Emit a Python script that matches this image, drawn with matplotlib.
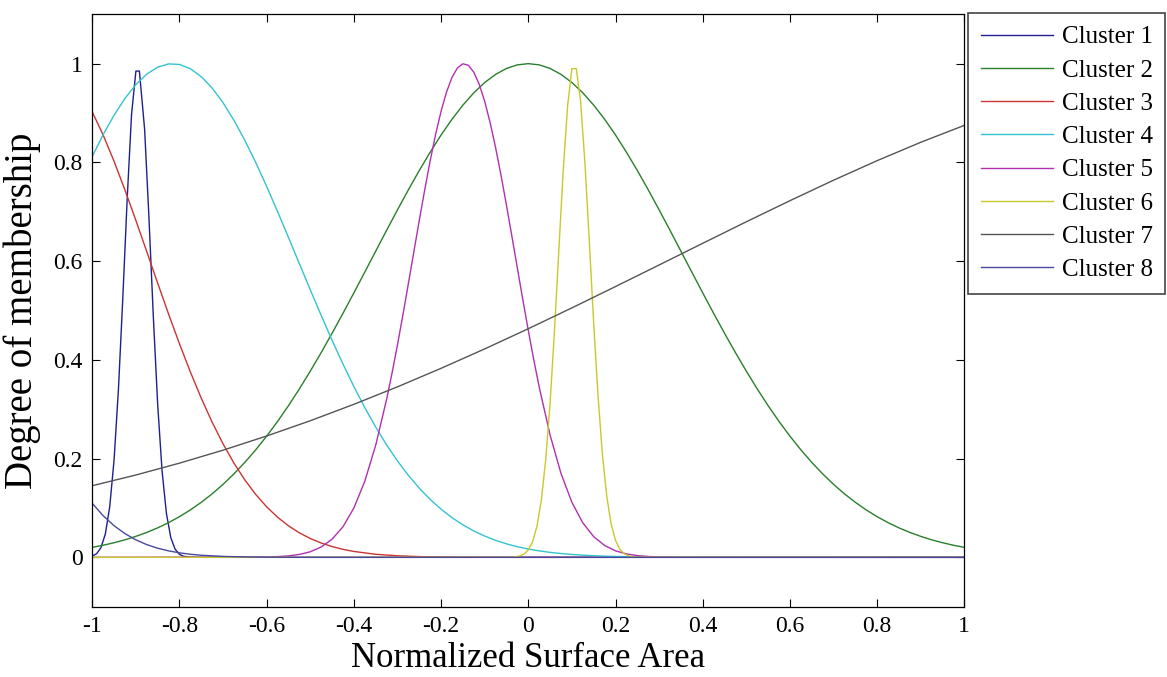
import numpy as np
import matplotlib
matplotlib.use("Agg")
import matplotlib.pyplot as plt
from matplotlib.lines import Line2D

plt.rcParams['font.family'] = ['Liberation Serif', 'DejaVu Serif']

# ---- membership curves over the normalized surface area ----
labels = ["Cluster 1", "Cluster 2", "Cluster 3", "Cluster 4",
          "Cluster 5", "Cluster 6", "Cluster 7", "Cluster 8"]
colors = ["#1f1f8f", "#2a7f2a", "#cc3333", "#33c3cf",
          "#b030b0", "#c9c92a", "#555555", "#4848a0"]

c1_x = [-1.00, -0.99, -0.98, -0.97, -0.96, -0.95, -0.94, -0.93, -0.92, -0.91,
        -0.90, -0.892, -0.88, -0.87, -0.86, -0.85, -0.84, -0.83, -0.82, -0.81,
        -0.80, -0.79, -0.78, -0.75, 1.00]
c1_y = [0.0025, 0.0074, 0.0198, 0.0477, 0.1027, 0.198, 0.341, 0.526, 0.726, 0.897,
        0.985, 0.985, 0.867, 0.687, 0.487, 0.309, 0.175, 0.089, 0.040, 0.0164,
        0.006, 0.002, 0.0007, 0.0, 0.0]

c2_x = np.linspace(-1.0, 1.0, 81)
c2_y = [0.0202, 0.0245, 0.0296, 0.0355, 0.0425, 0.0505, 0.0597, 0.0703, 0.0824, 0.0961,
        0.1115, 0.1287, 0.1479, 0.1692, 0.1925, 0.2179, 0.2456, 0.2753, 0.3073, 0.3413,
        0.3772, 0.4148, 0.4540, 0.4944, 0.5358, 0.5778, 0.6202, 0.6624, 0.7040, 0.7446,
        0.7837, 0.8208, 0.8556, 0.8874, 0.9160, 0.9409, 0.9618, 0.9783, 0.9903, 0.9976,
        1.0000,
        0.9976, 0.9903, 0.9783, 0.9618, 0.9409, 0.9160, 0.8874, 0.8556, 0.8208, 0.7837,
        0.7446, 0.7040, 0.6624, 0.6202, 0.5778, 0.5358, 0.4944, 0.4540, 0.4148, 0.3772,
        0.3413, 0.3073, 0.2753, 0.2456, 0.2179, 0.1925, 0.1692, 0.1479, 0.1287, 0.1115,
        0.0961, 0.0824, 0.0703, 0.0597, 0.0505, 0.0425, 0.0355, 0.0296, 0.0245, 0.0202]

c3_x = list(np.linspace(-1.0, -0.4, 25)) + [-0.35, -0.3, -0.25, -0.2, -0.1, 0.0, 0.5, 1.0]
c3_y = [0.902, 0.8553, 0.802, 0.7439, 0.6823, 0.6190, 0.5553, 0.4927, 0.4324, 0.3753,
        0.3222, 0.2735, 0.2297, 0.1907, 0.1566, 0.1272, 0.1022, 0.0812, 0.0638, 0.0496,
        0.0381, 0.0290, 0.0218, 0.0162, 0.0119,
        0.0062, 0.0031, 0.0015, 0.0007, 0.0001, 0.0, 0.0, 0.0]

c4_x = list(np.linspace(-1.0, 0.2, 49)) + [0.25, 0.3, 0.35, 0.4, 0.5, 1.0]
c4_y = [0.8124, 0.8563, 0.8957, 0.9297, 0.9576, 0.9789, 0.9929, 0.9995, 0.9984, 0.9897,
        0.9736, 0.9505, 0.9207, 0.8852, 0.8444, 0.7995, 0.7511, 0.7003, 0.6479, 0.5948,
        0.5419, 0.4900, 0.4396, 0.3915, 0.3459, 0.3033, 0.2639, 0.2278, 0.1952, 0.1660,
        0.1401, 0.1173, 0.0975, 0.0804, 0.0658, 0.0534, 0.0431, 0.0344, 0.0273, 0.0215,
        0.0168, 0.0131, 0.0100, 0.0077, 0.0058, 0.0044, 0.0033, 0.0024, 0.0018,
        0.0009, 0.0005, 0.0002, 0.0001, 0.0, 0.0]

c5_x = ([-1.0] + list(np.linspace(-0.6, -0.325, 12)) + list(np.linspace(-0.3125, 0.0125, 27))
        + list(np.linspace(0.025, 0.3, 12)) + [0.35, 1.0])
c5_y = [0.0,
        0.0006, 0.0014, 0.0029, 0.0059, 0.0113, 0.0209, 0.0368, 0.0620, 0.1000, 0.1541,
        0.2271, 0.3200,
        0.3733, 0.4308, 0.4916, 0.5549, 0.6189, 0.6828, 0.7448, 0.8035, 0.8570, 0.9039,
        0.9427, 0.9722, 0.9914, 0.9997, 0.9968, 0.9827, 0.9581, 0.9236, 0.8804, 0.8299,
        0.7735, 0.7129, 0.6497, 0.5854, 0.5216, 0.4597, 0.4005,
        0.3450, 0.2476, 0.1699, 0.1114, 0.0699, 0.0419, 0.0240, 0.0132, 0.0069, 0.0035,
        0.0017, 0.0008,
        0.0001, 0.0]

c6_x = [-1.0] + list(np.linspace(-0.04, 0.25, 30)) + [1.0]
c6_y = [0.0,
        0.0003, 0.0010, 0.0026, 0.0065, 0.0150, 0.0320, 0.0634, 0.1164, 0.1981, 0.3128,
        0.4579, 0.6215, 0.7824, 0.9133, 0.99, 0.99, 0.9237, 0.7973, 0.6382, 0.4737,
        0.3260, 0.2081, 0.1232, 0.0676, 0.0344, 0.0162, 0.0071, 0.0029, 0.0011, 0.0004,
        0.0]

c7_x = np.linspace(-1.0, 1.0, 21)
c7_y = [0.1451, 0.1668, 0.1908, 0.2171, 0.2458, 0.2767, 0.3100, 0.3454, 0.3829, 0.4222,
        0.4631, 0.5053, 0.5485, 0.5922, 0.6361, 0.6797, 0.7224, 0.7639, 0.8035, 0.8407,
        0.8750]

c8_x = [-1.0, -0.975, -0.95, -0.925, -0.9, -0.875, -0.85, -0.825, -0.8, -0.775,
        -0.75, -0.7, -0.65, -0.6, -0.5, 1.0]
c8_y = [0.1093, 0.0842, 0.0640, 0.0479, 0.0354, 0.0257, 0.0185, 0.0131, 0.0091, 0.0062,
        0.0042, 0.0019, 0.0008, 0.0003, 0.0, 0.0]

series = [(c1_x, c1_y), (c2_x, c2_y), (c3_x, c3_y), (c4_x, c4_y),
          (c5_x, c5_y), (c6_x, c6_y), (c7_x, c7_y), (c8_x, c8_y)]

x_ticks = [-1, -0.8, -0.6, -0.4, -0.2, 0, 0.2, 0.4, 0.6, 0.8, 1]
x_tick_labels = ["-1", "-0.8", "-0.6", "-0.4", "-0.2", "0", "0.2", "0.4", "0.6", "0.8", "1"]
y_ticks = [0, 0.2, 0.4, 0.6, 0.8, 1]
y_tick_labels = ["0", "0.2", "0.4", "0.6", "0.8", "1"]

# ---- figure ----
W, H = 1167, 677
fig = plt.figure(figsize=(W / 100, H / 100), dpi=100)
ax = fig.add_axes([92.3 / W, 1 - 606.7 / H, 872 / W, 592.4 / H])

for (xs, ys), col, lab in zip(series, colors, labels):
    ax.plot(xs, ys, color=col, lw=1.0, label=lab, solid_joinstyle='round')

ax.set_xlim(-1, 1)
ax.set_ylim(-0.1, 1.1)
ax.set_xticks(x_ticks)
ax.set_xticklabels(x_tick_labels)
ax.set_yticks(y_ticks)
ax.set_yticklabels(y_tick_labels)
ax.tick_params(direction='in', length=6, width=0.8, top=True, right=True,
               labelsize=17, pad=7, colors='black')
for sp in ax.spines.values():
    sp.set_linewidth(0.9)
    sp.set_color('black')

ax.set_xlabel("Normalized Surface Area", fontsize=25, labelpad=3)
ax.set_ylabel("Degree of membership", fontsize=28, labelpad=9)

handles = [Line2D([], [], color=c, lw=1.0) for c in colors]
leg = fig.legend(handles, labels, loc='upper left',
                 bbox_to_anchor=(968.3 / W, 1 - 13.3 / H), bbox_transform=fig.transFigure,
                 borderaxespad=0, fancybox=False, framealpha=1, edgecolor='#444444',
                 handlelength=2.9, handletextpad=0.34, labelspacing=0.43,
                 borderpad=0.5, fontsize=18)
leg.get_frame().set_linewidth(1.2)

fig.savefig("out.png", dpi=100)
